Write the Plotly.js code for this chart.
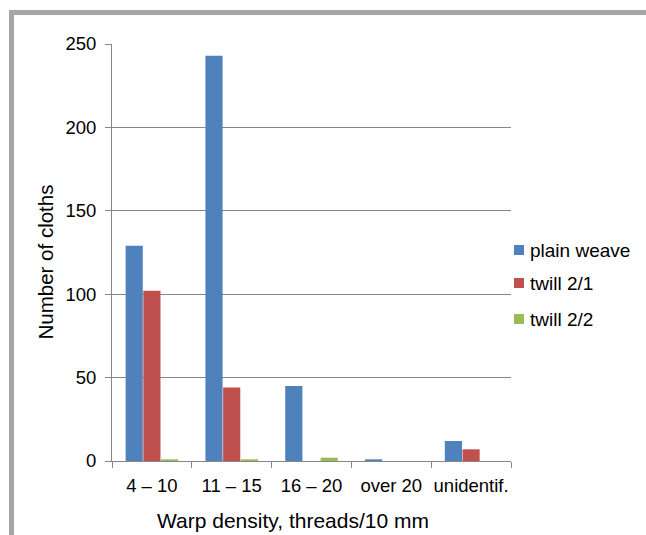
<!DOCTYPE html>
<html><head><meta charset="utf-8">
<script src="https://cdn.plot.ly/plotly-3.0.1.min.js"></script>
<style>
html,body{margin:0;padding:0;background:#fff;}
#chart{position:absolute;left:0;top:0;width:646px;height:535px;}
#frame{position:absolute;left:9px;top:10px;width:640px;height:530px;border-left:5px solid #a6a6a6;border-top:5px solid #a6a6a6;pointer-events:none;}
</style></head>
<body>
<div id="chart"></div>
<div id="frame"></div>
<script>
const categories = ['4 – 10', '11 – 15', '16 – 20', 'over 20', 'unidentif.'];
const seriesNames = ['plain weave', 'twill 2/1', 'twill 2/2'];
const plainWeave = [129, 243, 45, 1, 12];
const twill21 = [102, 44, 0, 0, 7];
const twill22 = [1, 1, 2, 0, 0];
const yTicks = [0, 50, 100, 150, 200, 250];
const xTitle = 'Warp density, threads/10 mm';
const yTitle = 'Number of cloths';

const colors = ['#4f81bd', '#c0504d', '#9bbb59'];
const fam = 'Liberation Sans, Arial, sans-serif';
const f = s => ({family: fam, size: s, color: '#000'});
const series = [plainWeave, twill21, twill22];
const traces = series.map((vals, i) => ({
  type:'bar', name:seriesNames[i], x:categories, y:vals, marker:{color:colors[i]}
}));

// plot area: x 112..511, y 44..461
const W = 646, H = 535, L = 112, R = 135, T = 44, B = 74;
const pw = W - L - R, ph = H - T - B;
const px = x => (x - L) / pw;
const py = y => (H - B - y) / ph;
const legendY = [250, 283, 319];
const shapes = [], annotations = [];
seriesNames.forEach((n, i) => {
  shapes.push({type:'rect', xref:'paper', yref:'paper', x0:px(514), x1:px(524),
    y0:py(legendY[i] + 5), y1:py(legendY[i] - 5), fillcolor:colors[i], line:{width:0}});
  annotations.push({xref:'paper', yref:'paper', x:px(528), y:py(legendY[i]), xanchor:'left', yanchor:'middle',
    text:n, showarrow:false, font:f(19)});
});
annotations.push({xref:'paper', yref:'paper', x:px(292.5), y:py(520), xanchor:'center', yanchor:'middle',
  text:xTitle, showarrow:false, font:f(21)});
annotations.push({xref:'paper', yref:'paper', x:px(44.5), y:py(262), xanchor:'center', yanchor:'middle',
  text:yTitle, showarrow:false, font:f(20.5), textangle:-90});

const layout = {
  width:W, height:H,
  margin:{l:L, r:R, t:T, b:B, autoexpand:false},
  paper_bgcolor:'#fff', plot_bgcolor:'#fff',
  font:f(18),
  barmode:'group', bargap:0.335, bargroupgap:0.03,
  showlegend:false,
  shapes:shapes, annotations:annotations,
  xaxis:{
    type:'category', showline:true, linecolor:'#868686', linewidth:1,
    ticks:'outside', tickson:'boundaries', ticklen:6, tickcolor:'#868686',
    ticklabelstandoff:8, tickangle:0,
    tickfont:f(18.5),
    showgrid:false, zeroline:false
  },
  yaxis:{
    range:[0,250], tickvals:yTicks, ticktext:yTicks.map(String),
    showline:true, linecolor:'#868686', linewidth:1,
    ticks:'outside', ticklen:6, tickcolor:'#868686',
    ticklabelstandoff:5,
    showgrid:true, gridcolor:'#868686', gridwidth:1, zeroline:false,
    tickfont:f(18.5)
  }
};
Plotly.newPlot('chart', traces, layout, {displayModeBar:false, staticPlot:true});
</script>
</body></html>
